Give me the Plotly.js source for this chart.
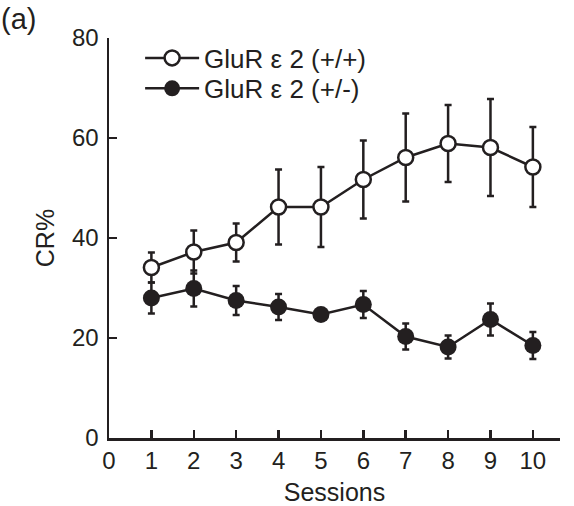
<!DOCTYPE html>
<html>
<head>
<meta charset="utf-8">
<script src="https://cdn.plot.ly/plotly-3.0.1.min.js"></script>
<style>html,body{margin:0;padding:0;background:#fff;}#chart{width:574px;height:506px;}</style>
</head>
<body>
<div id="chart"></div>
<script>
const sessions = [1, 2, 3, 4, 5, 6, 7, 8, 9, 10];
const wildMean = [34.1, 37.2, 39.1, 46.2, 46.2, 51.7, 56.1, 58.9, 58.1, 54.2];
const wildErr  = [3.0, 4.3, 3.8, 7.5, 8.0, 7.8, 8.8, 7.7, 9.7, 8.0];
const hetMean  = [28.0, 29.9, 27.5, 26.2, 24.7, 26.7, 20.3, 18.2, 23.7, 18.5];
const hetErr   = [3.1, 3.6, 2.9, 2.6, 1.0, 2.7, 2.6, 2.3, 3.2, 2.7];
const xTicks = [0, 1, 2, 3, 4, 5, 6, 7, 8, 9, 10];
const yTicks = [0, 20, 40, 60, 80];
const wildName = 'GluR \u03b5 2 (+/+)';
const hetName = 'GluR \u03b5 2 (+/-)';

const ink = '#231f20';
const fam = 'Liberation Sans, Arial, Helvetica, sans-serif';
const tickFont = {family: fam, color: ink, size: 24};
const titleFont = {family: fam, color: ink, size: 25};
const legendFont = {family: fam, color: ink, size: 26};

const traces = [
  {
    x: sessions, y: wildMean, name: wildName, type: 'scatter', mode: 'lines+markers',
    legend: 'legend',
    line: {color: ink, width: 2.5},
    marker: {symbol: 'circle', size: 15, color: '#ffffff', line: {color: ink, width: 2.5}},
    error_y: {type: 'data', array: wildErr, visible: true, color: ink, thickness: 2.5, width: 3.5}
  },
  {
    x: sessions, y: hetMean, name: hetName, type: 'scatter', mode: 'lines+markers',
    legend: 'legend2',
    line: {color: ink, width: 2.5},
    marker: {symbol: 'circle', size: 17, color: ink, line: {color: ink, width: 0}},
    error_y: {type: 'data', array: hetErr, visible: true, color: ink, thickness: 2.5, width: 3.5}
  }
];

const legendBase = {
  x: 0.069, xanchor: 'left', yanchor: 'middle',
  bgcolor: 'rgba(0,0,0,0)', font: legendFont, itemwidth: 54
};

const layout = {
  width: 574, height: 506,
  margin: {l: 109, r: 14, t: 38, b: 68},
  paper_bgcolor: '#ffffff', plot_bgcolor: '#ffffff',
  font: tickFont,
  showlegend: true,
  legend: Object.assign({}, legendBase, {y: 0.950}),
  legend2: Object.assign({}, legendBase, {y: 0.874}),
  xaxis: {
    range: [0, 10.64], tickvals: xTicks, ticktext: xTicks.map(String),
    ticks: 'inside', ticklen: 8, tickwidth: 2.5, tickcolor: ink,
    showline: true, linecolor: ink, linewidth: 2.5, showgrid: false, zeroline: false,
    tickfont: tickFont,
    title: {text: 'Sessions', font: titleFont, standoff: 13}
  },
  yaxis: {
    range: [0, 80], tickvals: yTicks, ticktext: yTicks.map(String),
    ticks: 'inside', ticklen: 8, tickwidth: 2.5, tickcolor: ink,
    showline: true, linecolor: ink, linewidth: 2.5, showgrid: false, zeroline: false,
    tickfont: tickFont, ticklabelstandoff: 3,
    title: {text: 'CR%', font: titleFont, standoff: 10}
  },
  annotations: [
    {text: '(a)', xref: 'paper', yref: 'paper', x: -0.243, y: 1.092, xanchor: 'left', yanchor: 'top',
     showarrow: false, font: {family: fam, color: ink, size: 29}}
  ]
};

Plotly.newPlot('chart', traces, layout, {displayModeBar: false, staticPlot: true});
</script>
</body>
</html>
